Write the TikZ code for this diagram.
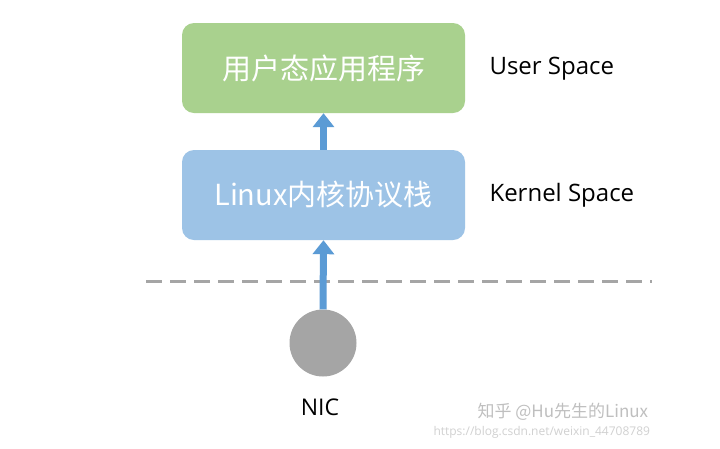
\documentclass[tikz,border=0pt]{standalone}
\usepackage{fontspec}
\setmainfont{Open Sans}
\newfontfamily\cjk{Noto Sans CJK SC}
\usetikzlibrary{positioning,arrows.meta}

\definecolor{appgreen}{HTML}{A9D18E}
\definecolor{stackblue}{HTML}{9DC3E6}
\definecolor{arrowblue}{HTML}{5B9BD5}
\definecolor{nicgray}{HTML}{A5A5A5}

\tikzset{
    layerbox/.style={rounded corners=12pt, minimum width=283pt, minimum height=90pt,
        text=white, font=\fontsize{29}{32}\selectfont\cjk, inner sep=0pt},
    uparrow/.style={draw=arrowblue, line width=7pt,
        -{Triangle[width=21pt,length=14pt]}},
    spacelabel/.style={anchor=west, font=\fontsize{24}{27}\selectfont},
}

\begin{document}
\begin{tikzpicture}[x=1pt,y=-1pt]
    \useasboundingbox[fill=white] (0,0) rectangle (720,448);

    % layers
    \node[layerbox, fill=appgreen] (app) at (323.5,68) {用户态应用程序};
    \node[layerbox, fill=stackblue] (stack) at (323.5,195) {Linux内核协议栈};

    \node[spacelabel] (userlbl) at (486,69) {User Space};
    \node[spacelabel] (kernellbl) at (486,195) {Kernel Space};

    % boundary between kernel and hardware
    \draw[nicgray, line width=3pt, dash pattern=on 16pt off 8pt] (146,281) -- (652,281);

    % NIC
    \node[circle, fill=nicgray, minimum size=67pt, inner sep=0pt] (nic) at (323,343) {};
    \node[font=\fontsize{23}{26}\selectfont] (niclbl) at (320,407) {NIC};

    \draw[uparrow] (nic.north) -- (stack.south);
    \draw[uparrow] (stack.north) -- (app.south);

    % watermark
    \node[anchor=west, text=black!25, font=\fontsize{17}{20}\selectfont\cjk] (mark) at (474,412) {知乎 @Hu先生的Linux};
    \node[anchor=west, text=black!18, font=\fontsize{12}{14}\selectfont] (url) at (430,432) {https://blog.csdn.net/weixin\_44708789};
\end{tikzpicture}
\end{document}
